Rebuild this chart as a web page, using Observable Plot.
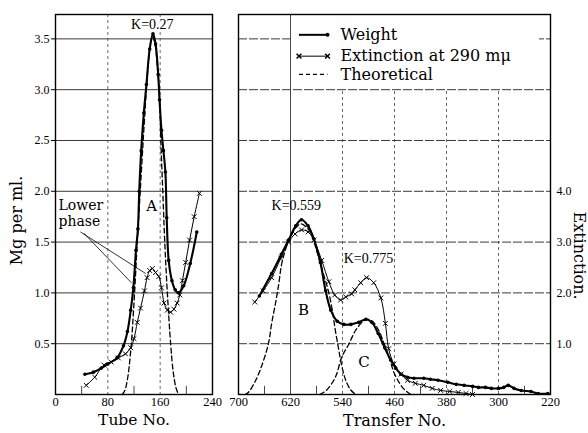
<!DOCTYPE html>
<html><head><meta charset="utf-8">
<script src="https://cdn.jsdelivr.net/npm/d3@7"></script>
<script src="https://cdn.jsdelivr.net/npm/@observablehq/plot@0.6"></script>
<style>
body{margin:0;background:#fff;}
#wrap{position:relative;width:588px;height:433px;}
#left{position:absolute;left:0;top:0;}
#right{position:absolute;left:225px;top:0;}
</style></head><body><div id="wrap"><div id="left"></div><div id="right"></div></div>
<script>
// ---------- Left panel (Tube No.) ----------
const weightTube = [45,58,70,80,94,104,110,115,119,123,126,128,131,135,139,144,149,153,157,159,162,165,168,170,173,178,183,188,196,206,216];
const weightMgL  = [0.2,0.22,0.26,0.3,0.36,0.48,0.62,0.83,1.05,1.42,1.63,2.0,2.4,2.77,3.05,3.4,3.55,3.45,3.15,2.9,2.6,2.4,2.19,1.74,1.32,1.12,1.03,1.0,1.07,1.29,1.6];
const extTube    = [47,60,74,85,96,107,115,120,125,130,136,140,144,148,153,158,162,166,171,176,181,186,190,194,199,205,212,220];
const extMgL     = [0.09,0.17,0.29,0.32,0.36,0.4,0.46,0.55,0.71,0.85,1.02,1.15,1.22,1.24,1.2,1.16,1.05,0.9,0.83,0.81,0.84,0.9,0.98,1.12,1.3,1.52,1.75,1.98];
const theoATube  = [102,106,110,115,120,125,130,135,140,144,148,152,156,159,161,164,167,171,176,180,184,188];
const theoAMg    = [0,0.04,0.15,0.43,0.9,1.5,2.05,2.6,3.1,3.4,3.52,3.45,3.2,2.95,2.5,2.0,1.5,1.0,0.5,0.22,0.07,0];
const tubeTicks  = [0,80,160,240];
const tubeGrid   = [80,160];
const tubeMinor  = [40,120,200];
const mgTicks    = [0.5,1.0,1.5,2.0,2.5,3.0,3.5];

// ---------- Right panel (Transfer No.) ----------
const weightTr   = [668,649,634,623,612,603,593,584,574,566,558,548,538,527,515,504,495,485,475,466,458,450,440,430,415,405,393,378,365,353,340,331,320,311,300,292,285,276,265,250,239,224];
const weightMgR  = [0.97,1.19,1.38,1.52,1.66,1.72,1.66,1.53,1.3,1.02,0.83,0.72,0.69,0.69,0.71,0.74,0.71,0.6,0.46,0.34,0.26,0.2,0.17,0.16,0.16,0.15,0.14,0.12,0.1,0.09,0.08,0.07,0.07,0.06,0.06,0.07,0.09,0.06,0.04,0.03,0.01,0.01];
const extTr      = [675,662,649,635,623,613,603,593,584,572,561,552,543,535,526,521,512,503,492,481,474,469,461,450,440,428,415,402,389,375,362,350,340];
const extMgR     = [0.91,1.02,1.15,1.34,1.5,1.58,1.62,1.6,1.52,1.32,1.11,0.98,0.93,0.96,0.99,1.03,1.1,1.15,1.1,0.95,0.7,0.45,0.3,0.2,0.14,0.11,0.09,0.06,0.04,0.03,0.02,0.01,0.0];
const theoBTr    = [690,685,675,665,654,649,643,638,634,628,620,612,604,596,588,580,570,561,555,551,546,543,538,535,528,520];
const theoBMg    = [0,0.02,0.12,0.27,0.5,0.7,0.9,1.09,1.27,1.42,1.55,1.64,1.68,1.65,1.58,1.42,1.2,1.0,0.8,0.63,0.45,0.34,0.2,0.14,0.05,0];
const theoCTr    = [575,565,551,541,530,520,510,502,494,485,476,468,461,453,445,435];
const theoCMg    = [0,0.04,0.17,0.37,0.5,0.63,0.71,0.74,0.72,0.64,0.5,0.36,0.22,0.12,0.05,0];
const transferTicks = [700,620,540,460,380,300,220];
const transferGrid  = [540,460,380,300];
const transferMinor = [660,580,500,420,340,260];
const extTicks   = [1.0,2.0,3.0,4.0];

// annotations (data units)
const kLabelsL = [{x:148, y:3.64, text:"K=0.27"}];
const letterL  = [{x:147, y:1.85, text:"A"}];
const noteL    = [{x:4.5, y:1.86, text:"Lower"}, {x:4.5, y:1.70, text:"phase"}];
const leaders = [
  {x1:38, y1:1.6, x2:138, y2:1.19},
  {x1:43, y1:1.59, x2:116, y2:1.1}
];
const kLabelsR = [{x:611, y:1.86, text:"K=0.559"}, {x:500, y:1.34, text:"K=0.775"}];
const lettersR = [{x:600, y:0.83, text:"B"}, {x:507, y:0.32, text:"C"}];
const legendNames = ["Weight", "Extinction at 290 mμ", "Theoretical"];
const legendY = [3.54, 3.33, 3.15];

const zip = (xs, ys) => xs.map((x, i) => ({x, y: ys[i]}));
const serif = "Liberation Serif";
const wide = "DejaVu Serif";
const style = {fontFamily: serif, fontSize: "12.5px", background: "white", color: "black", overflow: "visible"};
const curve = "catmull-rom";

const weightL = zip(weightTube, weightMgL);
const extL = zip(extTube, extMgL);
const theoA = zip(theoATube, theoAMg);

const leftPlot = Plot.plot({
  width: 225, height: 433,
  marginLeft: 55, marginRight: 13, marginTop: 14, marginBottom: 39,
  style,
  x: {domain: [0, 240]},
  y: {domain: [0, 3.74]},
  marks: [
    Plot.ruleY(mgTicks, {stroke: "#222", strokeWidth: 0.9}),
    Plot.ruleX(tubeGrid, {stroke: "#444", strokeWidth: 0.8, strokeDasharray: "3,3"}),
    Plot.ruleX(tubeMinor, {y1: 0, y2: 0.08, stroke: "#333", strokeWidth: 0.9}),
    Plot.axisX(tubeTicks, {tickSize: 0, tickPadding: 3, fontSize: 12.5, label: null}),
    Plot.axisY(mgTicks, {tickSize: 4, tickPadding: 2, tickFormat: d3.format(".1f"), fontSize: 12, label: null}),
    Plot.line(theoA, {x: "x", y: "y", curve, stroke: "black", strokeWidth: 1.3, strokeDasharray: "5,3"}),
    Plot.line(extL, {x: "x", y: "y", curve, stroke: "black", strokeWidth: 1}),
    Plot.dot(extL, {x: "x", y: "y", symbol: "times", r: 2.3, stroke: "black", strokeWidth: 1}),
    Plot.line(weightL, {x: "x", y: "y", curve, stroke: "black", strokeWidth: 2.1}),
    Plot.dot(weightL, {x: "x", y: "y", r: 1.8, fill: "black"}),
    Plot.link(leaders, {x1: "x1", y1: "y1", x2: "x2", y2: "y2", stroke: "black", strokeWidth: 0.8}),
    Plot.text(kLabelsL, {x: "x", y: "y", text: "text", fontSize: 14, fill: "black", stroke: "white", strokeWidth: 3, paintOrder: "stroke"}),
    Plot.text(letterL, {x: "x", y: "y", text: "text", fontFamily: wide, fontSize: 15, fill: "black", stroke: "white", strokeWidth: 3, paintOrder: "stroke"}),
    Plot.text(noteL, {x: "x", y: "y", text: "text", textAnchor: "start", fontFamily: wide, fontSize: 14, fill: "black"}),
    Plot.text(["Tube No."], {frameAnchor: "bottom", textAnchor: "middle", dy: 30, fontFamily: wide, fontSize: 15.5, fill: "black"}),
    Plot.text(["Mg per ml."], {frameAnchor: "left", textAnchor: "middle", rotate: -90, dx: -39, dy: 16, fontFamily: wide, fontSize: 16, fill: "black"}),
    Plot.frame({stroke: "black", strokeWidth: 1.4})
  ]
});
document.getElementById("left").appendChild(leftPlot);

const weightR = zip(weightTr, weightMgR);
const extR = zip(extTr, extMgR);
const theoB = zip(theoBTr, theoBMg);
const theoC = zip(theoCTr, theoCMg);

const legX1 = 607, legX2 = 563, legText = 543;
const legendRows = legendNames.map((name, i) => ({name, y: legendY[i]}));

const rightPlot = Plot.plot({
  width: 363, height: 433,
  marginLeft: 13, marginRight: 38, marginTop: 14, marginBottom: 39,
  style,
  x: {domain: [700, 220]},
  y: {domain: [0, 3.74]},
  marks: [
    Plot.ruleY(mgTicks, {stroke: "#222", strokeWidth: 0.9, strokeDasharray: "9,2"}),
    Plot.ruleX(transferGrid, {y1: 0, y2: 3.0, stroke: "#444", strokeWidth: 0.8, strokeDasharray: "3,3"}),
    Plot.ruleX(transferMinor, {y1: 0, y2: 0.08, stroke: "#333", strokeWidth: 0.9}),
    Plot.rect([0], {x1: 620, x2: 237, y1: 3.03, y2: 3.74, fill: "white"}),
    Plot.ruleX([620], {stroke: "#333", strokeWidth: 0.9}),
    Plot.axisX(transferTicks, {tickSize: 0, tickPadding: 3, fontSize: 12.5, label: null}),
    Plot.axisY(extTicks.map(e => e / 2), {anchor: "right", tickSize: 0, tickPadding: 6, tickFormat: d => (d * 2).toFixed(1), fontSize: 12, label: null}),
    Plot.line(theoB, {x: "x", y: "y", curve, stroke: "black", strokeWidth: 1.3, strokeDasharray: "5,3"}),
    Plot.line(theoC, {x: "x", y: "y", curve, stroke: "black", strokeWidth: 1.3, strokeDasharray: "5,3"}),
    Plot.line(extR, {x: "x", y: "y", curve, stroke: "black", strokeWidth: 1}),
    Plot.dot(extR, {x: "x", y: "y", symbol: "times", r: 2.3, stroke: "black", strokeWidth: 1}),
    Plot.line(weightR, {x: "x", y: "y", curve, stroke: "black", strokeWidth: 2.1}),
    Plot.dot(weightR, {x: "x", y: "y", r: 1.8, fill: "black"}),
    Plot.text(kLabelsR, {x: "x", y: "y", text: "text", fontSize: 14, fill: "black"}),
    Plot.text(lettersR, {x: "x", y: "y", text: "text", fontFamily: wide, fontSize: 15, fill: "black"}),
    // legend
    Plot.link([legendRows[0]], {x1: legX1, x2: legX2, y1: "y", y2: "y", stroke: "black", strokeWidth: 2}),
    Plot.dot([legendRows[0]], {x: legX2, y: "y", r: 2, fill: "black"}),
    Plot.link([legendRows[1]], {x1: legX1, x2: legX2, y1: "y", y2: "y", stroke: "black", strokeWidth: 1}),
    Plot.dot([legendRows[1], legendRows[1]], {x: (d, i) => i ? legX2 : legX1, y: "y", symbol: "times", r: 2.3, stroke: "black"}),
    Plot.link([legendRows[2]], {x1: legX1, x2: legX2, y1: "y", y2: "y", stroke: "black", strokeWidth: 1.2, strokeDasharray: "4,3"}),
    Plot.text(legendRows, {x: legText, y: "y", text: "name", textAnchor: "start", fontFamily: wide, fontSize: 16, letterSpacing: 0.6, fill: "black"}),
    Plot.text(["Transfer No."], {frameAnchor: "bottom", textAnchor: "middle", dy: 31, fontFamily: wide, fontSize: 16, letterSpacing: 2, fill: "black"}),
    Plot.text(["Extinction."], {frameAnchor: "right", textAnchor: "middle", rotate: 90, dx: 29, dy: 51, fontFamily: wide, fontSize: 16, fill: "black"}),
    Plot.frame({stroke: "black", strokeWidth: 1.4})
  ]
});
document.getElementById("right").appendChild(rightPlot);
</script></body></html>
